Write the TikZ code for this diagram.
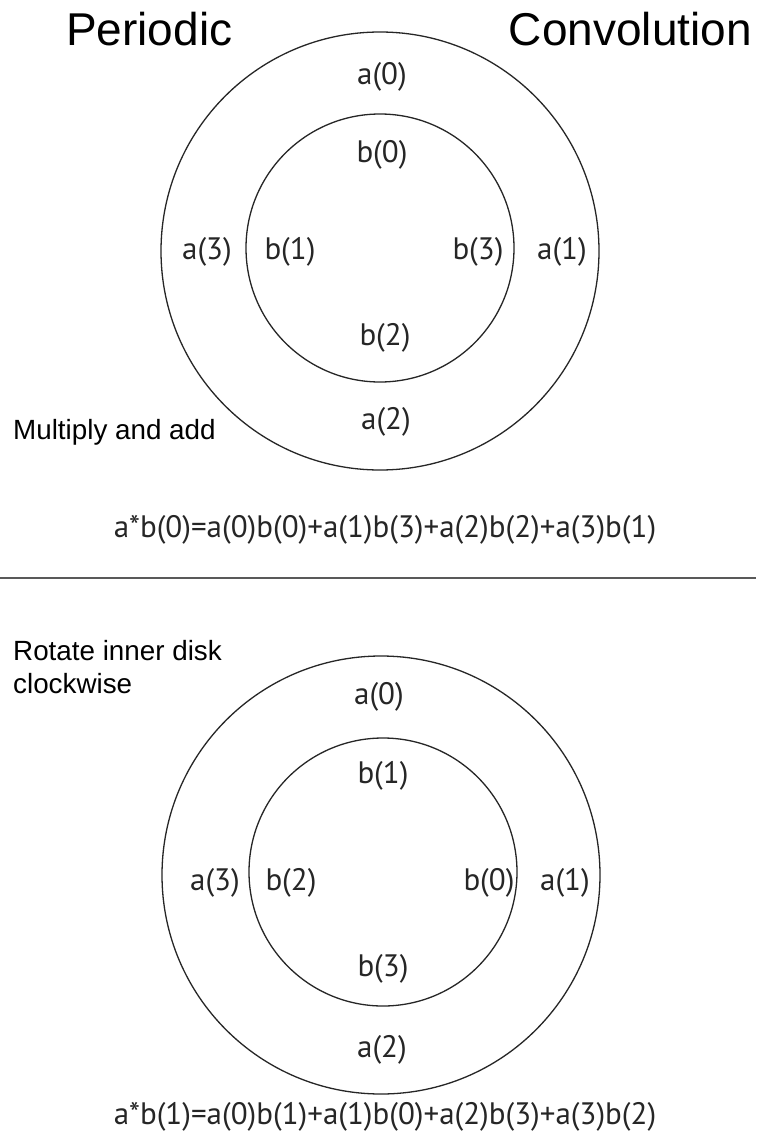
\documentclass[tikz,border=0pt]{standalone}
\usepackage{fontspec}
\setmainfont{Liberation Sans}
\newfontfamily\labfont{PT Sans}
\begin{document}
\begin{tikzpicture}[x=1pt,y=-1pt,
  ring/.style={draw=black!85,line width=1.3pt},
  lab/.style={inner sep=0pt,text=black!85,font=\labfont\fontsize{31}{34}\selectfont},
  formula/.style={lab},
  note/.style={inner sep=0pt,anchor=west,text=black,font=\fontsize{27.8}{30}\selectfont},
  heading/.style={inner sep=0pt,text=black,font=\fontsize{46}{50}\selectfont}]
\useasboundingbox (0,0) rectangle (756,1140);
\fill[white] (0,0) rectangle (756,1140);

% headings
\node[heading,anchor=base west] (hP) at (66,46) {Periodic};
\node[heading,anchor=base east] (hC) at (752,46) {Convolution};

% ---- first disk pair ----
\coordinate (oA) at (380,251);
\coordinate (iA) at (380,248);
\draw[ring] (oA) circle[radius=219];
\draw[ring] (iA) circle[radius=134];
\node[lab] (a0A) at (382,77) {a(0)};
\node[lab] (b0A) at (382,155) {b(0)};
\node[lab] (a3A) at (207,252) {a(3)};
\node[lab] (b1A) at (290,252) {b(1)};
\node[lab] (b3A) at (478,252) {b(3)};
\node[lab] (a1A) at (562,252) {a(1)};
\node[lab] (b2A) at (385,338) {b(2)};
\node[lab] (a2A) at (386,422) {a(2)};
\node[note] (mA) at (13,432) {Multiply and add};
\node[formula] (fA) at (385,530) {a*b(0)=a(0)b(0)+a(1)b(3)+a(2)b(2)+a(3)b(1)};

% divider
\coordinate (dL) at (0,578);
\coordinate (dR) at (756,578);
\draw[black!65,line width=1.6pt] (dL) -- (dR);

% ---- second disk pair, inner disk turned one step ----
\node[note] (rB) at (13,651) {Rotate inner disk};
\node[note] (cB) at (13,684) {clockwise};
\coordinate (oB) at (381,875);
\coordinate (iB) at (383,872);
\draw[ring] (oB) circle[radius=219];
\draw[ring] (iB) circle[radius=134];
\node[lab] (a0B) at (379,697) {a(0)};
\node[lab] (b1B) at (383,776) {b(1)};
\node[lab] (a3B) at (215,883) {a(3)};
\node[lab] (b2B) at (291,883) {b(2)};
\node[lab] (b0B) at (489,883) {b(0)};
\node[lab] (a1B) at (565,883) {a(1)};
\node[lab] (b3B) at (383,969) {b(3)};
\node[lab] (a2B) at (382,1050) {a(2)};
\node[formula] (fB) at (385,1117) {a*b(1)=a(0)b(1)+a(1)b(0)+a(2)b(3)+a(3)b(2)};
\end{tikzpicture}
\end{document}
